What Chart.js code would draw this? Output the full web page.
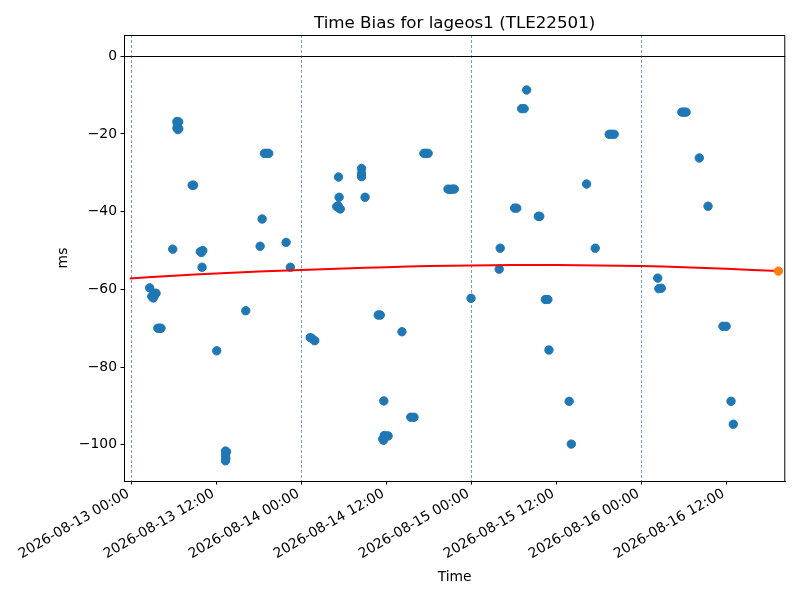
<!DOCTYPE html>
<html>
<head>
<meta charset="utf-8">
<title>Time Bias for lageos1 (TLE22501)</title>
<script src="https://cdn.jsdelivr.net/npm/chart.js@4.4.1/dist/chart.umd.min.js"></script>
<style>
  html, body { margin: 0; padding: 0; background: #fff; }
  #wrap { width: 800px; height: 600px; }
</style>
</head>
<body>
<div id="wrap"><canvas id="biasChart" width="800" height="600"></canvas></div>
<script>
// hours since 2026-08-13 00:00 UTC
const biasHours = [
  2.6, 2.9, 3.1, 3.2, 3.3, 3.5, 3.75, 4.0, 4.2, 5.86,
  6.45, 6.7, 6.5, 6.45, 6.6, 6.7, 8.6, 8.8, 9.75, 9.9,
  10.1, 10.0, 12.07, 13.3, 13.45, 13.3, 13.35, 13.3, 16.16, 18.19,
  18.47, 18.8, 19.1, 19.4, 21.86, 22.45, 25.25, 25.5, 25.9, 29.0,
  29.2, 29.25, 29.3, 29.34, 29.5, 32.5, 32.5, 32.5, 33.0, 34.85,
  35.15, 35.5, 35.6, 35.65, 35.7, 36.0, 36.25, 38.2, 39.45, 39.9,
  41.3, 41.6, 41.9, 44.7, 45.0, 45.3, 45.6, 47.95, 51.93, 52.07,
  54.1, 54.4, 55.1, 55.45, 55.8, 57.45, 57.65, 58.45, 58.8, 58.95,
  61.8, 62.1, 64.26, 65.48, 67.45, 67.8, 68.15, 74.3, 74.45, 74.8,
  77.7, 78.0, 78.3, 80.16, 81.4, 83.5, 83.95, 84.64, 84.96
];
const biasMs = [
  -59.6, -61.8, -62.2, -61.0, -61.5, -61.0, -70.0, -70.0, -70.0, -49.65,
  -16.8, -16.9, -17.4, -18.5, -18.9, -18.6, -33.2, -33.2, -50.3, -50.5,
  -50.0, -54.3, -75.8, -101.6, -101.8, -102.6, -103.4, -104.1, -65.5, -48.9,
  -41.9, -25.0, -25.0, -25.0, -47.9, -54.3, -72.4, -72.6, -73.2, -38.7,
  -38.5, -31.1, -39.0, -36.3, -39.3, -28.9, -30.2, -31.0, -36.3, -66.6,
  -66.6, -98.5, -98.8, -88.7, -97.6, -97.8, -97.7, -70.9, -92.9, -92.9,
  -25.0, -25.0, -25.0, -34.2, -34.3, -34.2, -34.2, -62.3, -54.8, -49.4,
  -39.1, -39.1, -13.5, -13.5, -8.7, -41.2, -41.2, -62.6, -62.6, -75.6,
  -88.8, -99.8, -32.9, -49.4, -20.1, -20.1, -20.1, -57.1, -59.8, -59.7,
  -14.4, -14.4, -14.4, -26.2, -38.6, -69.5, -69.5, -88.8, -94.7
];

// red fit curve
const fitHours = [-0.2, 6, 12, 18, 24, 30, 36, 42, 48, 54, 60, 66, 72, 78, 84, 91.3];
const fitMs = [-57.2, -56.5, -55.9, -55.4, -55.0, -54.6, -54.3, -54.0, -53.85, -53.75, -53.75, -53.85, -54.0, -54.3, -54.7, -55.3];

// orange point at the end of the fit
const predHours = [91.32];
const predMs = [-55.3];

const xTickHours = [0, 12, 24, 36, 48, 60, 72, 84];
const xTickLabels = [
  '2026-08-13 00:00', '2026-08-13 12:00', '2026-08-14 00:00', '2026-08-14 12:00',
  '2026-08-15 00:00', '2026-08-15 12:00', '2026-08-16 00:00', '2026-08-16 12:00'
];
const yTicks = [-100, -80, -60, -40, -20, 0];

const chartTitle = 'Time Bias for lageos1 (TLE22501)';
const gridBlue = 'rgba(60,115,165,0.85)';
const noLine = 'rgba(0,0,0,0)';

const toPoints = (xs, ys) => xs.map((x, i) => ({ x: x, y: ys[i] }));

// top/right spines and the title centred over the axes
const frameAndTitle = {
  id: 'frameAndTitle',
  afterDraw(chart) {
    const { ctx, chartArea: a } = chart;
    ctx.save();
    ctx.strokeStyle = '#000';
    ctx.lineWidth = 1;
    ctx.beginPath();
    ctx.moveTo(a.left, a.top + 0.5);
    ctx.lineTo(a.right - 0.5, a.top + 0.5);
    ctx.lineTo(a.right - 0.5, a.bottom);
    ctx.stroke();
    ctx.fillStyle = '#000';
    ctx.font = '16.7px "DejaVu Sans"';
    ctx.textAlign = 'center';
    ctx.textBaseline = 'alphabetic';
    ctx.fillText(chartTitle, (a.left + a.right) / 2, 27.5);
    ctx.restore();
  }
};

Chart.defaults.font.family = '"DejaVu Sans", sans-serif';
Chart.defaults.font.size = 13.9;
Chart.defaults.color = '#000';

const config = {
  type: 'scatter',
  data: {
    datasets: [
      {
        label: 'prediction',
        data: toPoints(predHours, predMs),
        backgroundColor: '#ff7f0e',
        borderColor: '#ff7f0e',
        borderWidth: 1,
        pointRadius: 4.2,
        order: 0
      },
      {
        label: 'fit',
        data: toPoints(fitHours, fitMs),
        showLine: true,
        borderColor: '#ff0000',
        borderWidth: 2,
        pointRadius: 0,
        tension: 0.4,
        order: 1
      },
      {
        label: 'time bias',
        data: toPoints(biasHours, biasMs),
        backgroundColor: '#1f77b4',
        borderColor: '#1f77b4',
        borderWidth: 1,
        pointRadius: 4.2,
        order: 2
      }
    ]
  },
  options: {
    responsive: false,
    animation: false,
    events: [],
    layout: { padding: { top: 35, right: 14.7, bottom: 0, left: 0 } },
    plugins: {
      legend: { display: false },
      tooltip: { enabled: false },
      title: { display: false }
    },
    scales: {
      x: {
        type: 'linear',
        min: -1.02,
        max: 92.3,
        afterBuildTicks: s => { s.ticks = xTickHours.map(v => ({ value: v })); },
        afterFit: s => { s.height = 119; },
        ticks: {
          autoSkip: false,
          minRotation: 30,
          maxRotation: 30,
          padding: 1,
          labelOffset: -3,
          callback: (v, i) => xTickLabels[i]
        },
        grid: {
          color: c => (c.tick && c.tick.value % 24 === 0) ? gridBlue : noLine,
          lineWidth: 0.8,
          tickColor: '#000',
          tickLength: 3.5,
          tickWidth: 1
        },
        border: { display: true, color: '#000', width: 1, dash: [3, 2] },
        title: { display: true, text: 'Time', padding: { top: 0, bottom: 14.6 } }
      },
      y: {
        min: -109.3,
        max: 5.45,
        afterBuildTicks: s => { s.ticks = yTicks.map(v => ({ value: v })); },
        afterFit: s => { s.width = 124; },
        ticks: {
          padding: 3.5,
          callback: v => String(v).replace('-', '\u2212')
        },
        grid: {
          color: c => (c.tick && c.tick.value === 0) ? '#000' : noLine,
          lineWidth: 1,
          tickColor: '#000',
          tickLength: 3.5,
          tickWidth: 1
        },
        border: { display: true, color: '#000', width: 1 },
        title: { display: true, text: 'ms', padding: { top: 55.3, bottom: 0 } }
      }
    }
  },
  plugins: [frameAndTitle]
};

const biasChart = new Chart(document.getElementById('biasChart'), config);
</script>
</body>
</html>
